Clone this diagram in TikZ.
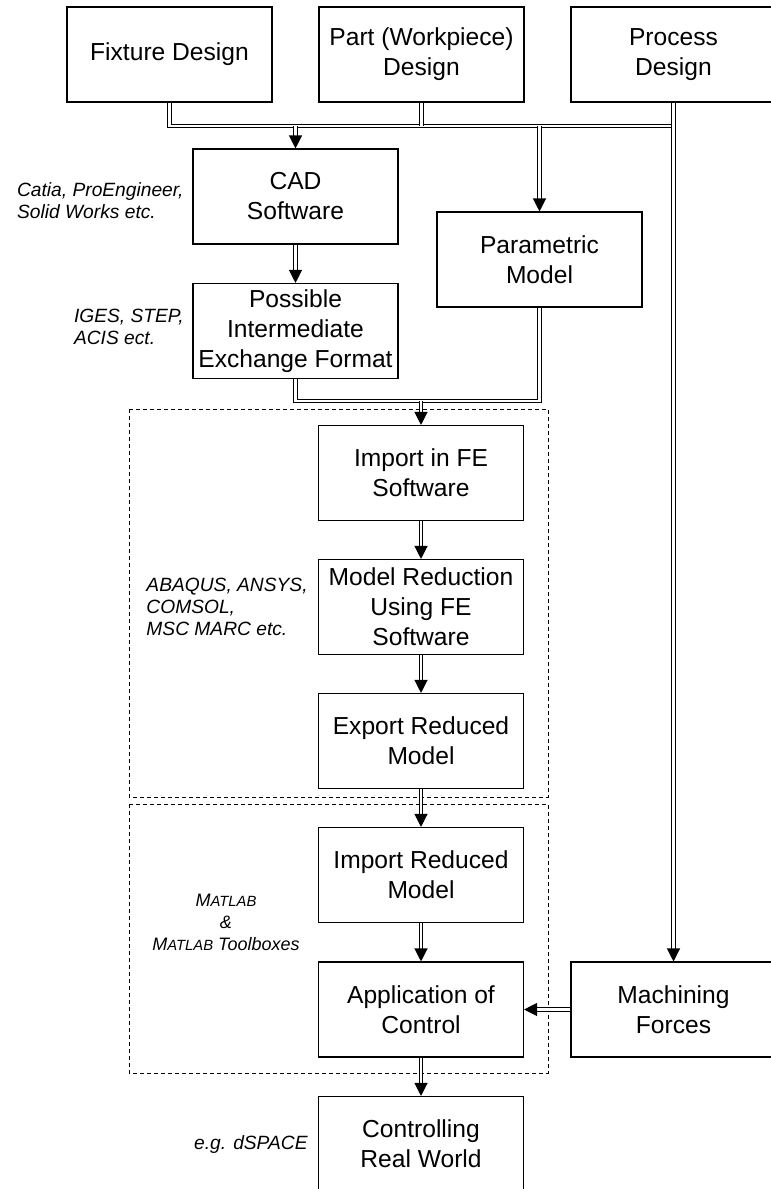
\documentclass[tikz,border=0pt]{standalone}
\usepackage{fontspec}
\setmainfont{Liberation Sans}
\usetikzlibrary{arrows.meta}

\tikzset{
  blk/.style={draw, line width=0.55pt, minimum width=102.5pt, minimum height=47.5pt,
    align=center, inner sep=1pt, font=\fontsize{12.3}{15}\selectfont},
  note/.style={anchor=east, align=left, inner sep=0pt, font=\fontsize{9.6}{11}\selectfont\itshape},
  dbl/.style={double, double distance=1.2pt, line width=0.6pt},
  dblarrow/.style={dbl, -{Triangle[length=6.5pt,width=6.5pt]}},
  grp/.style={line width=0.4pt, dash pattern=on 2pt off 1.5pt},
}

\begin{document}
\begin{tikzpicture}[x=0.5pt,y=-0.5pt]

\useasboundingbox (0,0) rectangle (771,1189);
\draw[grp] (129,409) rectangle (548,797);
\draw[grp] (129,804) rectangle (548,1073);
\node[blk] (fix) at (169.5,54.5) {Fixture Design};
\node[blk] (part) at (421.5,54.5) {Part (Workpiece)\\Design};
\node[blk] (proc) at (673.5,54.5) {Process\\Design};
\node[blk] (cad) at (295.5,196.5) {CAD\\Software};
\node[blk] (poss) at (295.5,331) {Possible\\Intermediate\\Exchange Format};
\node[blk] (param) at (539.5,259.5) {Parametric\\Model};
\node[blk] (imp) at (421,473) {Import in FE\\Software};
\node[blk] (red) at (421,607) {Model Reduction\\Using FE\\Software};
\node[blk] (exp) at (421,741) {Export Reduced\\Model};
\node[blk] (impr) at (421,875) {Import Reduced\\Model};
\node[blk] (ctrl) at (421,1009.5) {Application of\\Control};
\node[blk] (mach) at (673.5,1009.5) {Machining\\Forces};
\node[blk] (real) at (421,1144) {Controlling\\Real World};
\node[note] (cadsw) at (184,201) {Catia, ProEngineer,\\Solid Works etc.};
\node[note] (fmt) at (184,327) {IGES, STEP,\\ACIS ect.};
\node[note] (fesw) at (308,607) {ABAQUS, ANSYS,\\COMSOL,\\MSC MARC etc.};
\node[note, anchor=center, align=center, font=\fontsize{9}{11}\selectfont\itshape] (mat) at (226,922)
  {M{\fontsize{7.4}{9}\selectfont ATLAB}\\\&\\M{\fontsize{7.4}{9}\selectfont ATLAB} Toolboxes};
\node[note] (dsp) at (308,1145) {e.g. dSPACE};
\coordinate (bus) at (0,126);
\coordinate (merge) at (0,401);
\draw[dbl] (fix.south) |- (proc.south |- bus);
\draw[dbl] (part.south) -- (part.south |- bus);
\draw[dblarrow] (proc.south) -- (mach.north);
\draw[dblarrow] (cad.north |- bus) -- (cad.north);
\draw[dblarrow] (param.north |- bus) -- (param.north);
\draw[dbl] (poss.south) |- (merge -| param.south) -- (param.south);
\draw[dblarrow] (imp.north |- merge) -- (imp.north);
\foreach \a/\b in {cad/poss,imp/red,red/exp,exp/impr,impr/ctrl,ctrl/real}
  \draw[dblarrow] (\a) -- (\b);
\draw[dblarrow] (mach) -- (ctrl);
\end{tikzpicture}
\end{document}
